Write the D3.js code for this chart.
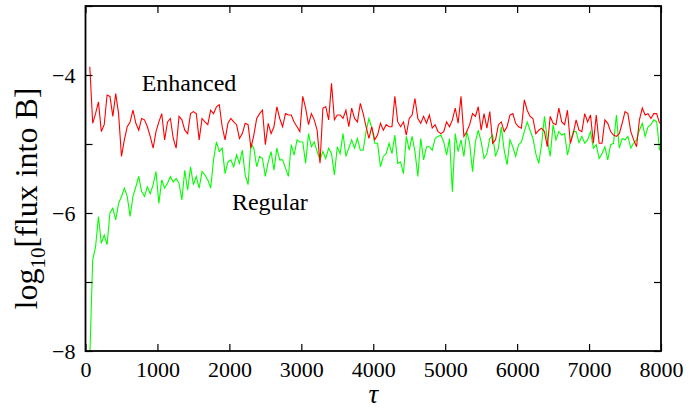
<!DOCTYPE html>
<html>
<head>
<meta charset="utf-8">
<script src="https://cdn.jsdelivr.net/npm/d3@7"></script>
<style>
  body { margin: 0; background: #fff; }
  text { font-family: "Liberation Serif", "DejaVu Serif", serif; fill: #000; }
</style>
</head>
<body>
<svg id="chart" width="690" height="413"></svg>
<script>
// Sampling of the time axis (tau) for both runs
const tauStart = 60;
const tauStep = 40;

// log10 of the flux into B, enhanced run
const enhanced = [
  -3.88,-4.70,-4.56,-4.39,-4.82,-4.72,-4.29,-4.31,-4.60,-4.27,-4.56,-5.18,-4.94,-4.75,-4.68,-4.51,-4.70,-4.80,-4.63,-4.65,-4.75,-4.89,-5.06,-4.82,-4.68,-4.56,-4.94,-4.68,-4.63,-4.92,-5.06,-4.60,-4.65,
  -4.80,-4.85,-4.56,-4.53,-4.56,-4.94,-4.63,-4.68,-4.72,-4.51,-4.56,-4.46,-4.43,-4.75,-4.94,-4.70,-4.63,-4.68,-4.72,-4.92,-4.85,-4.70,-4.72,-5.06,-4.87,-4.63,-4.56,-4.51,-5.01,-4.70,-4.85,-4.75,-4.46,
  -4.63,-4.75,-4.56,-4.58,-4.58,-4.68,-4.75,-4.82,-4.31,-4.48,-4.72,-4.56,-4.65,-4.80,-5.28,-4.48,-4.46,-4.65,-4.12,-4.65,-4.58,-4.58,-4.63,-4.51,-4.75,-4.48,-4.63,-4.68,-4.41,-4.56,-4.75,-4.92,-4.75,
  -4.94,-4.87,-4.70,-4.80,-4.72,-4.75,-4.75,-4.31,-4.68,-4.75,-4.68,-4.87,-4.63,-4.58,-4.34,-4.63,-4.70,-4.60,-4.70,-4.58,-4.77,-4.72,-4.82,-4.85,-4.82,-4.68,-4.75,-4.65,-4.48,-4.70,-4.31,-4.89,-4.82,
  -4.72,-4.56,-4.60,-4.46,-4.80,-4.56,-4.77,-4.53,-4.99,-4.94,-4.72,-4.68,-4.82,-4.75,-4.58,-4.56,-4.70,-4.75,-4.77,-4.36,-4.51,-4.60,-4.63,-4.85,-4.80,-4.77,-4.82,-5.04,-4.60,-4.70,-4.72,-4.48,-4.68,
  -4.72,-4.51,-4.99,-4.85,-4.65,-4.80,-4.82,-4.56,-4.68,-4.58,-4.99,-4.58,-4.99,-4.99,-4.65,-4.70,-4.82,-4.87,-4.89,-4.85,-4.70,-4.53,-4.56,-4.82,-4.94,-5.04,-4.65,-4.48,-4.58,-4.56,-4.63,-4.56,-4.56,-4.70
];

// log10 of the flux into B, regular run
const regular = [
  -8.10,-6.68,-6.49,-6.05,-6.44,-6.32,-6.46,-6.00,-5.93,-6.10,-5.86,-5.76,-5.64,-5.76,-6.05,-5.76,-5.62,-5.47,-5.69,-5.76,-5.62,-5.72,-5.59,-5.40,-5.86,-5.52,-5.64,-5.57,-5.47,-5.55,-5.50,-5.57,-5.81,
  -5.38,-5.67,-5.33,-5.59,-5.47,-5.64,-5.40,-5.45,-5.52,-5.64,-5.23,-4.97,-5.11,-5.06,-5.43,-5.26,-5.23,-5.33,-5.16,-5.28,-5.09,-5.45,-5.59,-4.99,-5.06,-5.33,-5.18,-5.21,-5.47,-5.26,-5.11,-5.38,-5.06,
  -5.23,-5.23,-5.35,-5.47,-5.01,-5.16,-4.94,-4.97,-4.97,-5.28,-4.85,-5.04,-4.97,-5.11,-5.23,-5.11,-5.21,-5.06,-5.14,-5.45,-5.04,-5.14,-4.85,-5.18,-5.06,-4.94,-5.06,-4.92,-5.09,-5.09,-4.82,-4.63,-4.77,
  -4.99,-4.99,-5.33,-5.18,-5.14,-4.99,-5.14,-4.87,-5.28,-5.26,-5.43,-4.89,-5.09,-4.89,-5.11,-5.47,-4.92,-5.23,-5.04,-5.04,-5.09,-4.92,-4.89,-4.87,-4.97,-5.16,-4.92,-5.69,-4.85,-5.11,-4.94,-5.18,-4.82,
  -4.99,-5.40,-4.97,-4.80,-4.97,-5.21,-5.14,-4.92,-4.87,-5.18,-5.06,-4.75,-5.09,-5.30,-4.94,-5.04,-5.18,-5.01,-4.97,-4.82,-4.68,-4.80,-4.92,-5.14,-5.28,-5.01,-4.60,-4.94,-5.18,-4.72,-4.94,-4.82,-4.87,
  -4.85,-5.16,-4.97,-4.82,-4.82,-4.98,-4.89,-4.99,-4.94,-4.82,-5.06,-5.01,-5.21,-5.14,-5.04,-5.23,-5.01,-4.99,-4.58,-5.06,-4.92,-4.94,-4.89,-5.06,-4.99,-4.94,-4.80,-4.70,-4.89,-4.75,-4.72,-4.65,-4.68,-5.09
];

const xTickValues = [0, 1000, 2000, 3000, 4000, 5000, 6000, 7000, 8000];
const yTickValues = [-8, -7, -6, -5, -4, -3];
const yLabelled = [-8, -6, -4];

const svg = d3.select("#chart");
const plotLeft = 85.5, plotRight = 661, plotTop = 6, plotBottom = 351;

const x = d3.scaleLinear().domain([0, 8000]).range([plotLeft, plotRight]);
const y = d3.scaleLinear().domain([-8, -3]).range([plotBottom, plotTop]);

svg.append("clipPath").attr("id", "plot-clip")
  .append("rect").attr("x", plotLeft).attr("y", plotTop)
  .attr("width", plotRight - plotLeft).attr("height", plotBottom - plotTop);

const tauOf = i => tauStart + i * tauStep;
const line = d3.line().x((d, i) => x(tauOf(i))).y(d => y(d));

const plot = svg.append("g").attr("clip-path", "url(#plot-clip)");
plot.append("path").datum(regular)
  .attr("d", line).attr("fill", "none")
  .attr("stroke", "#00ff00").attr("stroke-width", 1.1);
plot.append("path").datum(enhanced)
  .attr("d", line).attr("fill", "none")
  .attr("stroke", "#ff0000").attr("stroke-width", 1.1);

// Inward ticks on all four sides
const tickLen = 7;
const fmt = d => d < 0 ? "\u2212" + Math.abs(d) : String(d);

const axisBottom = d3.axisBottom(x).tickValues(xTickValues).tickSize(-tickLen).tickPadding(10).tickFormat(d3.format("d"));
const axisTop = d3.axisTop(x).tickValues(xTickValues).tickSize(-tickLen).tickFormat("");
const axisLeft = d3.axisLeft(y).tickValues(yTickValues).tickSize(-tickLen).tickPadding(10)
  .tickFormat(d => yLabelled.includes(d) ? fmt(d) : "");
const axisRight = d3.axisRight(y).tickValues(yTickValues).tickSize(-tickLen).tickFormat("");

function style(g) {
  g.select(".domain").remove();
  g.selectAll(".tick line").attr("stroke", "#000").attr("stroke-width", 1.2);
  g.selectAll(".tick text").attr("font-size", 22).attr("fill", "#000");
}

svg.append("g").attr("transform", `translate(0,${plotBottom})`).call(axisBottom).call(style);
svg.append("g").attr("transform", `translate(0,${plotTop})`).call(axisTop).call(style);
svg.append("g").attr("transform", `translate(${plotLeft},0)`).call(axisLeft).call(style);
svg.append("g").attr("transform", `translate(${plotRight},0)`).call(axisRight).call(style);

// Frame
svg.append("rect").attr("x", plotLeft).attr("y", plotTop)
  .attr("width", plotRight - plotLeft).attr("height", plotBottom - plotTop)
  .attr("fill", "none").attr("stroke", "#000").attr("stroke-width", 1.8);

// Series annotations
svg.append("text").attr("x", x(781)).attr("y", y(-4.225))
  .attr("font-size", 24).text("Enhanced");
svg.append("text").attr("x", x(2035)).attr("y", y(-5.95))
  .attr("font-size", 24).text("Regular");

// Axis titles
svg.append("text").attr("x", x(4000)).attr("y", 403)
  .attr("text-anchor", "middle").attr("font-size", 27).attr("font-style", "italic").text("\u03c4");

const yTitle = svg.append("text")
  .attr("transform", "translate(37,198.5) rotate(-90)")
  .attr("text-anchor", "middle").attr("font-size", 32);
yTitle.append("tspan").text("log");
yTitle.append("tspan").attr("font-size", 21).attr("dy", 8).text("10");
yTitle.append("tspan").attr("dy", -8).text("[flux into B]");
</script>
</body>
</html>
